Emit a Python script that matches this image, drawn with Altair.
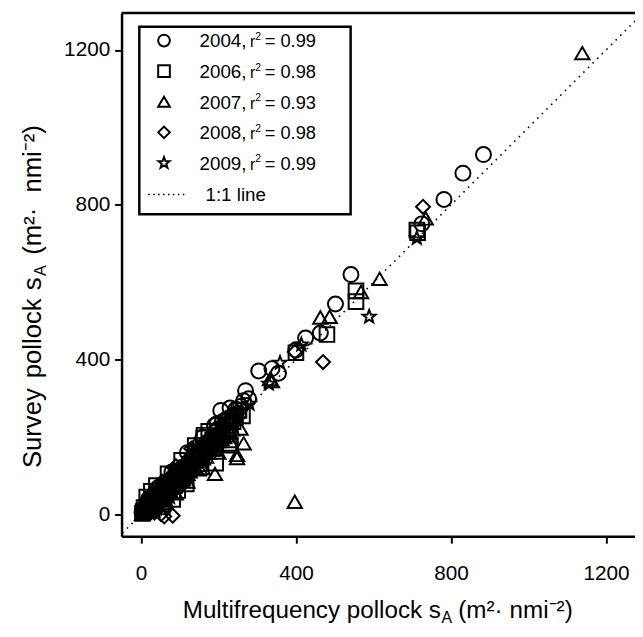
import altair as alt
import pandas as pd

# ---------------- data ----------------
years = ["2004", "2006", "2007", "2008", "2009"]
r2_values = ["0.99", "0.98", "0.93", "0.98", "0.99"]

x2004 = [3, 10, 18, 25, 33, 40, 47, 55, 62, 70, 78, 88, 97, 108, 118, 130, 142, 155, 168, 180,
         192, 197, 206, 215, 228, 240, 252, 265, 270, 278, 304, 338, 355, 400, 425, 463, 502,
         542, 725, 782, 831, 884, 235,
         8, 15, 22, 30, 37, 44, 52, 58, 66, 75, 84, 93, 102, 113, 124, 136, 148, 160, 173, 186,
         200, 210, 220, 245, 258,
         20, 45, 80, 120, 160, 190, 230, 60, 110]
y2004 = [5, 12, 22, 28, 40, 45, 55, 60, 72, 78, 90, 98, 110, 122, 128, 145, 150, 165, 180, 192,
         215, 235, 269, 230, 250, 258, 262, 294, 320, 299, 371, 377, 365, 425, 456, 469, 544,
         620, 751, 814, 882, 930, 240,
         6, 14, 20, 32, 36, 48, 52, 64, 70, 82, 92, 100, 112, 118, 136, 140, 158, 172, 186, 200,
         222, 240, 246, 272, 280,
         40, 70, 110, 160, 200, 230, 275, 30, 90]

x2006 = [4, 8, 15, 22, 27, 35, 42, 50, 58, 66, 75, 82, 90, 100, 110, 117, 125, 138, 150, 162,
         163, 170, 185, 193, 200, 212, 227, 231, 231, 244, 253, 262, 400, 480, 555, 555, 712, 714,
         6, 12, 19, 25, 31, 38, 46, 54, 62, 70, 79, 86, 95, 105, 114, 122, 132, 144, 156, 168,
         180, 196, 208, 220, 238,
         15, 40, 70, 105, 140, 175, 55, 95, 150]
y2006 = [3, 18, 12, 30, 60, 38, 50, 45, 65, 72, 80, 39, 95, 105, 112, 79, 130, 140, 160, 198,
         205, 178, 192, 133, 212, 220, 184, 230, 179, 252, 269, 255, 418, 465, 578, 550, 735, 728,
         8, 10, 22, 20, 35, 42, 55, 48, 62, 66, 84, 90, 98, 108, 120, 118, 138, 150, 158, 172,
         185, 200, 205, 215, 240,
         45, 75, 105, 140, 178, 215, 20, 62, 120]

x2007 = [3, 12, 20, 30, 38, 48, 57, 66, 75, 86, 96, 108, 120, 133, 147, 160, 175, 188, 191, 200,
         215, 230, 248, 248, 257, 265, 333, 338, 397, 463, 487, 568, 616, 735, 1139,
         7, 16, 25, 34, 43, 52, 62, 71, 80, 90, 101, 114, 126, 140, 154, 168, 182, 196, 208,
         222, 236,
         30, 60, 90, 120, 160, 200, 230, 45]
y2007 = [2, 8, 15, 25, 32, 40, 45, 58, 62, 72, 85, 92, 105, 118, 128, 145, 160, 172, 105, 190,
         200, 212, 154, 146, 222, 184, 350, 345, 33, 509, 511, 575, 609, 765, 1192,
         4, 12, 18, 28, 36, 44, 52, 60, 70, 80, 88, 100, 112, 124, 140, 150, 168, 178, 195,
         205, 220,
         10, 30, 55, 85, 120, 160, 190, 70]

x2008 = [5, 14, 22, 32, 40, 52, 60, 68, 78, 82, 88, 98, 108, 118, 128, 136, 138, 150, 165, 178,
         195, 210, 228, 245, 397, 470, 728,
         9, 18, 27, 36, 46, 56, 64, 73, 84, 93, 103, 113, 123, 133, 145, 158, 172, 186, 202,
         218, 236,
         25, 55, 90, 130, 35, 65, 105, 60]
y2008 = [6, 18, 25, 38, 45, 1, 68, 62, 82, -3, 98, 104, 122, 130, 142, 167, 175, 160, 178, 190,
         205, 222, 236, 262, 420, 394, 795,
         10, 22, 30, 40, 52, 60, 72, 78, 90, 96, 110, 118, 128, 138, 155, 168, 182, 198, 212,
         228, 250,
         50, 85, 125, 170, 5, 20, 75, -5]

x2009 = [4, 10, 16, 24, 32, 40, 50, 60, 70, 80, 92, 104, 116, 130, 146, 160, 176, 192, 210, 228,
         250, 280, 330, 359, 414, 589, 712, 60,
         7, 13, 20, 28, 36, 45, 55, 65, 75, 86, 98, 110, 123, 138, 153, 168, 184, 200, 218, 238,
         20, 50, 85, 40, 75, 115, 160]
y2009 = [2, 12, 8, 18, 33, 37, 46, 60, 66, 77, 90, 100, 118, 127, 150, 158, 176, 196, 212, 232,
         255, 286, 338, 392, 439, 511, 714, 40,
         6, 10, 16, 24, 30, 42, 50, 58, 72, 82, 94, 106, 115, 135, 144, 165, 182, 200, 222, 240,
         35, 75, 115, 15, 45, 85, 135]

one_to_one = [-60, 1300]
x_ticks = [0, 400, 800, 1200]
y_ticks = [0, 400, 800, 1200]

series = {"2004": (x2004, y2004), "2006": (x2006, y2006), "2007": (x2007, y2007),
          "2008": (x2008, y2008), "2009": (x2009, y2009)}
pts = pd.concat([pd.DataFrame({"year": k, "multi": v[0], "survey": v[1]})
                 for k, v in series.items()], ignore_index=True)
leg = pd.DataFrame({"year": years, "r2": r2_values, "row": list(range(len(years)))})
one = pd.DataFrame({"a": [0]})

# ---------------- styling ----------------
FONT = "Liberation Sans"
W, H = 520, 530
STAR = ("M0,-1L0.247,-0.34L0.951,-0.309L0.399,0.13L0.588,0.809L0,0.42"
        "L-0.588,0.809L-0.399,0.13L-0.951,-0.309L-0.247,-0.34Z")

xscale = alt.Scale(domain=[-50, 1275], nice=False, zero=False)
yscale = alt.Scale(domain=[-56, 1296], nice=False, zero=False)
shape_scale = alt.Scale(domain=years, range=["circle", "square", "triangle-up", "diamond", STAR])
size_scale = alt.Scale(domain=years, range=[230, 190, 220, 240, 190])

common_axis = dict(title=None, grid=False, tickSize=7, tickWidth=2, tickColor="black",
                   domainColor="black", domainWidth=2.5, labelFontSize=21, labelFont=FONT,
                   labelColor="black", labelOverlap=False, labelFlush=False, format="d")
xaxis = alt.Axis(values=x_ticks, labelPadding=20, **common_axis)
yaxis = alt.Axis(values=y_ticks, labelPadding=5, **common_axis)

line = alt.Chart(pd.DataFrame({"v": one_to_one})).mark_line(
    color="black", strokeWidth=1.6, strokeDash=[1.6, 5], clip=True
).encode(
    x=alt.X("v:Q", scale=xscale, axis=xaxis),
    y=alt.Y("v:Q", scale=yscale, axis=yaxis),
)

points = alt.Chart(pts).mark_point(filled=False, color="black", strokeWidth=2, opacity=1).encode(
    x=alt.X("multi:Q", scale=xscale, axis=xaxis),
    y=alt.Y("survey:Q", scale=yscale, axis=yaxis),
    shape=alt.Shape("year:N", scale=shape_scale, legend=None),
    size=alt.Size("year:O", scale=size_scale, legend=None),
)

top_border = alt.Chart(one).mark_rule(color="black", strokeWidth=2.5).encode(
    x=alt.value(0), x2=alt.value(W), y=alt.value(0)
)

# ---------------- legend ----------------
legend_box = alt.Chart(one).mark_rect(fill="white", stroke="black", strokeWidth=2.5).encode(
    x=alt.value(18), x2=alt.value(232), y=alt.value(14), y2=alt.value(204)
)

legend_sym = alt.Chart(leg).transform_calculate(cy="28 + 31*datum.row").mark_point(
    filled=False, color="black", strokeWidth=2, opacity=1, size=140
).encode(
    x=alt.value(43),
    y=alt.Y("cy:Q", scale=None, axis=None),
    shape=alt.Shape("year:N", scale=shape_scale, legend=None),
)

def legend_text(expr, x, size, dy=0):
    return alt.Chart(leg).transform_calculate(
        yb="35 + 31*datum.row", txt=expr
    ).mark_text(align="left", baseline="alphabetic", font=FONT, fontSize=size,
                color="black", dy=dy).encode(
        x=alt.value(x),
        y=alt.Y("yb:Q", scale=None, axis=None),
        text=alt.Text("txt:N"),
    )

leg_year = legend_text("datum.year + ','", 79, 19)
leg_r = legend_text("'r'", 130, 16)
leg_sup = legend_text("'2'", 135.5, 10.5, dy=-7.5)
leg_val = legend_text("'= ' + datum.r2", 145, 18.5)

leg_line = alt.Chart(one).mark_rule(color="black", strokeWidth=1.6, strokeDash=[1.6, 3.4]).encode(
    x=alt.value(27), x2=alt.value(67), y=alt.value(184)
)
leg_line_txt = alt.Chart(one).mark_text(
    text="1:1 line", align="left", baseline="alphabetic", font=FONT, fontSize=19, color="black"
).encode(x=alt.value(85), y=alt.value(191))

# ---------------- axis titles ----------------
def tpart(text, x, y, size, angle=0, dy=0):
    kw = dict(text=text, align="left", baseline="alphabetic", font=FONT, fontSize=size,
              color="black", dy=dy)
    if angle:
        kw["angle"] = angle
    return alt.Chart(one).mark_text(**kw).encode(x=alt.value(x), y=alt.value(y))

xt_y = 613
x_title = [
    tpart("Multifrequency pollock s", 62, xt_y, 24.5),
    tpart("A", 324, xt_y, 16, dy=5),
    tpart("(m²·", 341, xt_y, 24.5),
    tpart("nmi⁻²)", 393, xt_y, 24.5),
]
yt_x = -82
y_title = [
    tpart("Survey", yt_x, 461, 26, angle=270),
    tpart("pollock", yt_x, 370, 26, angle=270),
    tpart("s", yt_x, 281, 26, angle=270),
    tpart("A", yt_x, 266.5, 16.5, angle=270, dy=5),
    tpart("(m²·", yt_x, 245, 26, angle=270),
    tpart("nmi⁻²)", yt_x, 182, 26, angle=270),
]

chart = alt.layer(
    line, points, top_border, legend_box, legend_sym,
    leg_year, leg_r, leg_sup, leg_val, leg_line, leg_line_txt,
    *x_title, *y_title
).properties(
    width=W, height=H,
    autosize=alt.AutoSizeParams(type="none"),
    padding={"left": 115, "top": 1, "right": 0, "bottom": 90},
    background="white",
).configure_view(stroke=None)

chart.save("out.html", embed_options={"renderer": "svg", "actions": False})
